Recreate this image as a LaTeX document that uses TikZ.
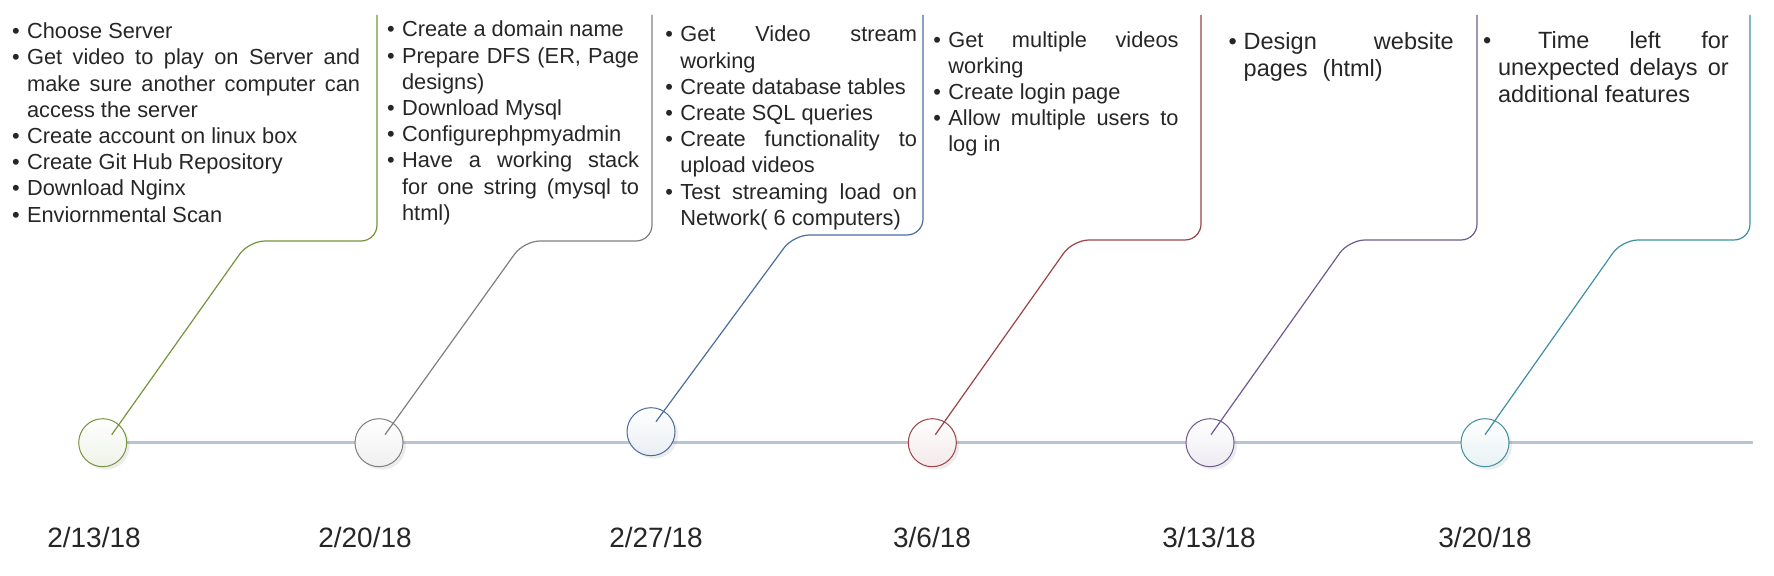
\documentclass[tikz,border=0pt]{standalone}
\usepackage{fontspec}
\setmainfont{Liberation Sans}
\usetikzlibrary{calc,shadows,backgrounds}
\definecolor{txt}{HTML}{262626}
\definecolor{axis}{HTML}{B8C5D3}
\definecolor{olv}{HTML}{77933C}
\definecolor{gry}{HTML}{7F7F7F}
\definecolor{blu}{HTML}{4A6D9C}
\definecolor{rd}{HTML}{9C4246}
\definecolor{prp}{HTML}{6F5A8E}
\definecolor{tl}{HTML}{3F8FA3}
\newcommand{\itm}{\par\noindent\hangindent=7.5pt\relax\hangafter=1\relax
  \hyphenpenalty=10000\relax\vrule height 10pt depth 0pt width 0pt\relax
  \hbox to 7.5pt{\textbullet\hfil}}
\newcommand{\tasklist}[2]{\parbox[t]{#1}{#2}}
\tikzset{
  milestone/.style={circle,minimum size=24pt,inner sep=0pt,draw=#1,line width=0.5pt,
    top color=white,bottom color=#1!12,
    drop shadow={shadow xshift=1.5pt,shadow yshift=-1.5pt,opacity=0.15}},
  callout/.style={draw=#1,line width=0.6pt,rounded corners=8pt},
  tasks/.style={anchor=north west,inner sep=0pt,text=txt,
    font=\fontsize{10.9pt}{13.1pt}\selectfont},
  bigtasks/.style={tasks,font=\fontsize{11.75pt}{13.35pt}\selectfont},
  datelabel/.style={anchor=base,text=txt,font=\fontsize{14pt}{16pt}\selectfont},
}
\begin{document}
\begin{tikzpicture}[x=0.5pt,y=-0.5pt]
\useasboundingbox (0,0) rectangle (1774,576);
% milestones on the time axis
\node[milestone=olv] (m1) at (102.7,442.7) {};
\node[milestone=gry] (m2) at (379,442.7) {};
\node[milestone=blu] (m3) at (651,431.7) {};
\node[milestone=rd] (m4) at (932.3,442.7) {};
\node[milestone=prp] (m5) at (1210,442.7) {};
\node[milestone=tl] (m6) at (1485,442.7) {};
\coordinate (axisend) at (1752.7,442.7);
\begin{scope}[on background layer]
\draw[axis,line width=1.5pt] (m1.center) -- (axisend);
\end{scope}
% dates
\node[datelabel] (d1) at (94,547.5) {2/13/18};
\node[datelabel] (d2) at (365,547.5) {2/20/18};
\node[datelabel] (d3) at (656,547.5) {2/27/18};
\node[datelabel] (d4) at (932,547.5) {3/6/18};
\node[datelabel] (d5) at (1209,547.5) {3/13/18};
\node[datelabel] (d6) at (1485,547.5) {3/20/18};
% task lists
\node[tasks] (t1) at (11.7,18.3) {\tasklist{174pt}{%
\itm Choose Server
\itm Get video to play on Server and\linebreak make sure another computer can\linebreak access the server
\itm Create account on linux box
\itm Create Git Hub Repository
\itm Download Nginx
\itm Enviornmental Scan}};
\node[tasks] (t2) at (386.7,16.5) {\tasklist{126pt}{%
\itm Create a domain name
\itm Prepare DFS (ER, Page\linebreak designs)
\itm Download Mysql
\itm Configurephpmyadmin
\itm Have a working stack\linebreak for one string (mysql to\linebreak html)}};
\node[tasks] (t3) at (665,21.5) {\tasklist{125.8pt}{%
\itm Get Video stream\linebreak working
\itm Create database tables
\itm Create SQL queries
\itm Create functionality to\linebreak upload videos
\itm Test streaming load on\linebreak Network( 6 computers)}};
\node[tasks] (t4) at (933,26.7) {\tasklist{122.6pt}{%
\itm Get multiple videos\linebreak working
\itm Create login page
\itm Allow multiple users to\linebreak log in}};
\node[bigtasks] (t5) at (1228.3,29.3) {\tasklist{112.5pt}{%
\itm Design website\linebreak pages\hspace{7.5pt}(html)}};
\node[bigtasks] (t6) at (1482.7,28.3) {\tasklist{122.8pt}{%
\itm\hspace*{20pt}Time left for\linebreak unexpected delays or\linebreak additional features}};
% callout outlines down to the milestones
\coordinate (e1) at ($(m1)+(9,-8)$);
\coordinate (e2) at ($(m2)+(6,-8)$);
\coordinate (e3) at ($(m3)+(5,-10)$);
\coordinate (e4) at ($(m4)+(3,-8)$);
\coordinate (e5) at ($(m5)+(1,-8)$);
\coordinate (e6) at ($(m6)+(0,-8)$);
\coordinate (r1) at (377,15);   \coordinate (b1) at (377,241);  \coordinate (c1) at (249,241);
\coordinate (r2) at (652,15);   \coordinate (b2) at (652,241);  \coordinate (c2) at (524,241);
\coordinate (r3) at (923,15);   \coordinate (b3) at (923,235);  \coordinate (c3) at (793.5,235);
\coordinate (r4) at (1201,15);  \coordinate (b4) at (1201,240); \coordinate (c4) at (1073,240);
\coordinate (r5) at (1477,15);  \coordinate (b5) at (1477,240); \coordinate (c5) at (1349,240);
\coordinate (r6) at (1750,15);  \coordinate (b6) at (1750,240); \coordinate (c6) at (1622,240);
\draw[callout=olv] (r1) -- (b1) -- (c1) -- (e1);
\draw[callout=gry] (r2) -- (b2) -- (c2) -- (e2);
\draw[callout=blu] (r3) -- (b3) -- (c3) -- (e3);
\draw[callout=rd] (r4) -- (b4) -- (c4) -- (e4);
\draw[callout=prp] (r5) -- (b5) -- (c5) -- (e5);
\draw[callout=tl] (r6) -- (b6) -- (c6) -- (e6);
\end{tikzpicture}
\end{document}
